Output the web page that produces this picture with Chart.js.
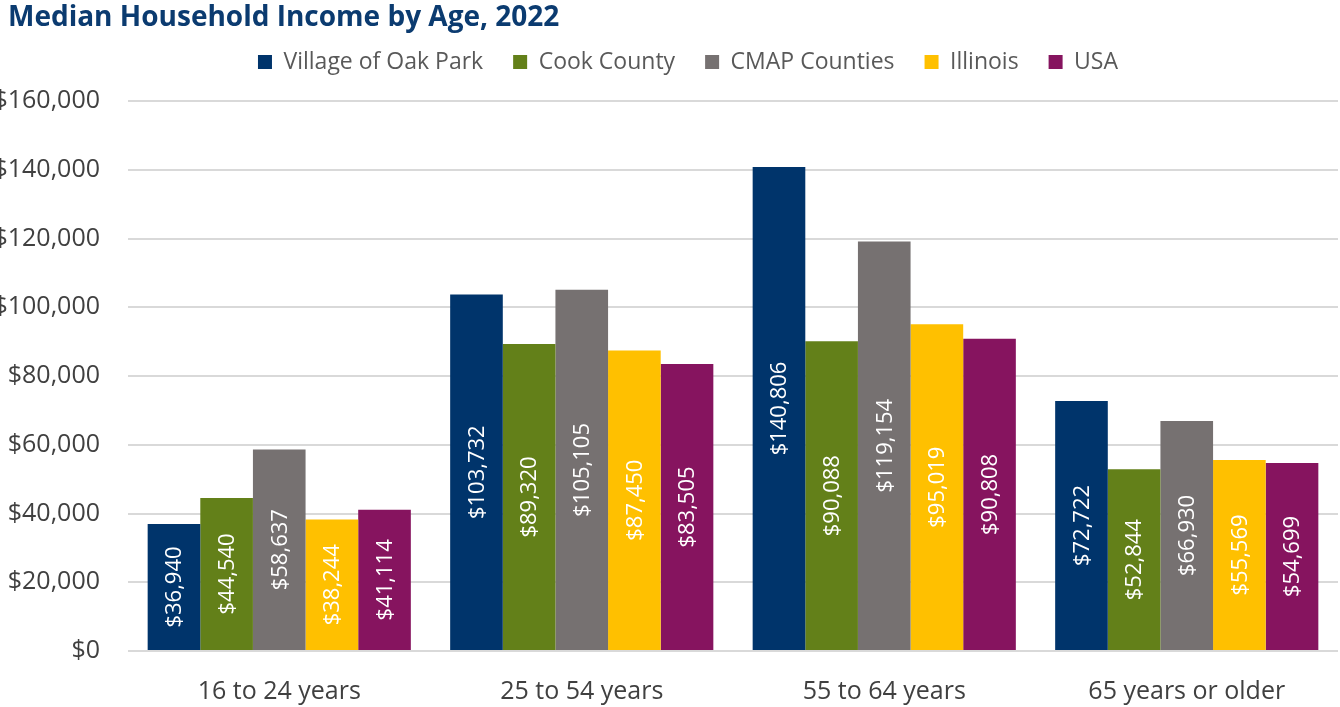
<!DOCTYPE html>
<html>
<head>
<meta charset="utf-8">
<script src="https://cdn.jsdelivr.net/npm/chart.js@4.4.1/dist/chart.umd.min.js"></script>
<style>
  html, body { margin: 0; padding: 0; background: #fff; }
  #wrap { width: 1340px; height: 707px; position: relative; }
</style>
</head>
<body>
<div id="wrap"><canvas id="chart"></canvas></div>
<script>
// Data
const age_groups = ['16 to 24 years', '25 to 54 years', '55 to 64 years', '65 years or older'];
const oak_park = [36940, 103732, 140806, 72722];
const cook_county = [44540, 89320, 90088, 52844];
const cmap_counties = [58637, 105105, 119154, 66930];
const illinois = [38244, 87450, 95019, 55569];
const usa = [41114, 83505, 90808, 54699];
const y_ticks = [0, 20000, 40000, 60000, 80000, 100000, 120000, 140000, 160000];

// Colors
const navy = '#00346B';
const green = '#638019';
const gray = '#767171';
const gold = '#FFC000';
const plum = '#86145F';
const grid_color = '#d9d9d9';
const text_color = '#404040';

const font_family = "'Open Sans', 'Noto Sans', sans-serif";
Chart.defaults.font.family = font_family;

const money = v => '$' + Number(v).toLocaleString('en-US');

// Value labels written sideways in the middle of each bar
const bar_labels = {
    id: 'barLabels',
    afterDatasetsDraw(chart) {
        const ctx = chart.ctx;
        ctx.save();
        ctx.fillStyle = '#ffffff';
        ctx.font = `22px ${font_family}`;
        ctx.textAlign = 'center';
        ctx.textBaseline = 'middle';
        chart.data.datasets.forEach((ds, i) => {
            chart.getDatasetMeta(i).data.forEach((bar, j) => {
                const mid = (bar.y + bar.base) / 2;
                ctx.save();
                ctx.translate(bar.x, mid);
                ctx.rotate(-Math.PI / 2);
                ctx.fillText(money(ds.data[j]), 0, 1);
                ctx.restore();
            });
        });
        ctx.restore();
    }
};

// Extra room under the legend; shift title and legend sideways a little
const header_tweak = {
    id: 'headerTweak',
    beforeInit(chart) {
        const fit = chart.legend.fit;
        chart.legend.fit = function () {
            fit.bind(chart.legend)();
            this.height += 17.5;
        };
    },
    afterLayout(chart) {
        chart.titleBlock.left += 8;
        chart.titleBlock.right += 8;
        chart.legend.left += 19;
        chart.legend.right += 19;
    }
};

const chart_canvas = document.getElementById('chart');
const chart = new Chart(chart_canvas, {
    type: 'bar',
    data: {
        labels: age_groups,
        datasets: [
            { label: 'Village of Oak Park', data: oak_park, backgroundColor: navy },
            { label: 'Cook County', data: cook_county, backgroundColor: green },
            { label: 'CMAP Counties', data: cmap_counties, backgroundColor: gray },
            { label: 'Illinois', data: illinois, backgroundColor: gold },
            { label: 'USA', data: usa, backgroundColor: plum },
        ],
    },
    options: {
        animation: false,
        responsive: true,
        maintainAspectRatio: false,
        layout: { padding: { left: 0, right: 2, top: 0, bottom: 0 } },
        datasets: {
            bar: { categoryPercentage: 0.87, barPercentage: 1.0, borderWidth: 0 }
        },
        plugins: {
            title: {
                display: true,
                text: 'Median Household Income by Age, 2022',
                align: 'start',
                color: '#0B3B70',
                font: { size: 28, weight: 'bold' },
                padding: { top: 1, bottom: -14.1 },
            },
            legend: {
                display: true,
                labels: {
                    boxWidth: 14,
                    boxHeight: 14,
                    padding: 30,
                    color: '#595959',
                    font: { size: 23 },
                },
            },
            tooltip: { enabled: false },
        },
        scales: {
            x: {
                grid: { display: false },
                border: { display: false },
                ticks: { color: text_color, font: { size: 25 }, padding: 18 },
                afterFit: s => { s.height = 56; },
            },
            y: {
                min: 0,
                max: 160000,
                afterBuildTicks: s => { s.ticks = y_ticks.map(v => ({ value: v })); },
                grid: { color: grid_color, lineWidth: 2, drawTicks: false },
                border: { display: false },
                ticks: { color: text_color, font: { size: 25 }, padding: 28, callback: money },
                afterFit: s => { s.width = 128; },
            },
        },
    },
    plugins: [bar_labels, header_tweak],
});
</script>
</body>
</html>
